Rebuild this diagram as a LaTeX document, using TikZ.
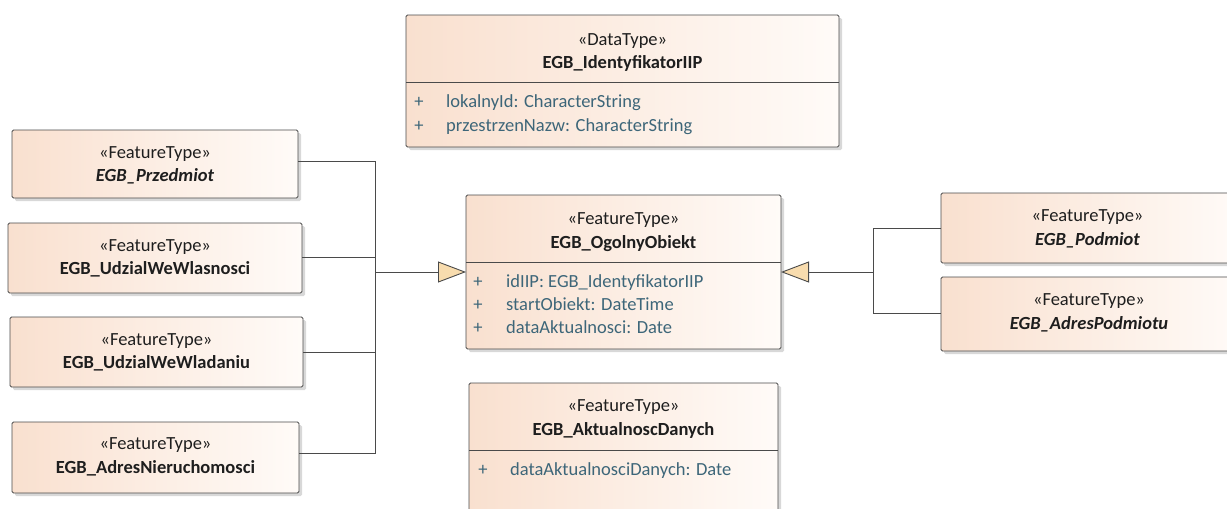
\documentclass[tikz,border=0pt]{standalone}
\usepackage{fontspec}
\setmainfont{Carlito}
\usetikzlibrary{arrows.meta,shadows,calc}
\definecolor{peachL}{HTML}{F9E0CF}
\definecolor{peachR}{HTML}{FFFBF8}
\definecolor{boxline}{HTML}{4A4A4A}
\definecolor{attrc}{HTML}{3D6679}
\definecolor{arrowfill}{HTML}{F8DCAE}
\definecolor{titlec}{HTML}{1E1E1E}
\begin{document}
\begin{tikzpicture}[x=1pt,y=-1pt,
  umlbox/.style={draw=boxline, line width=0.9pt, rounded corners=1.5pt,
    left color=peachL, right color=peachR, anchor=north west,
    inner sep=0pt, outer sep=0pt,
    drop shadow={shadow xshift=3pt, shadow yshift=-3pt, fill=black!30, opacity=0.5}},
  conn/.style={draw=boxline, line width=0.9pt},
  gen/.style={conn, -{Triangle[length=28pt,width=21pt,fill=arrowfill]}},
  stereo/.style={font=\fontsize{18.5}{22}\selectfont, text=titlec, anchor=base, inner sep=0pt},
  cname/.style={font=\fontsize{18.5}{22}\selectfont\bfseries, text=titlec, anchor=base, inner sep=0pt},
  aname/.style={font=\fontsize{18.5}{22}\selectfont\bfseries\itshape, text=titlec, anchor=base, inner sep=0pt},
  attr/.style={font=\fontsize{18.5}{22}\selectfont, text=attrc, anchor=base west, inner sep=0pt},
  plus/.style={font=\fontsize{18.5}{22}\selectfont, text=attrc, anchor=base, inner sep=0pt}
]
\useasboundingbox[fill=white] (0,0) rectangle (1227,509);

% ---- boxes
\node[umlbox, minimum width=433pt, minimum height=132pt] (dt) at (406,15) {};
\node[umlbox, minimum width=286pt, minimum height=68pt] (przed) at (12,130) {};
\node[umlbox, minimum width=294pt, minimum height=70pt] (wlas) at (8,223) {};
\node[umlbox, minimum width=293pt, minimum height=70pt] (wlad) at (10,317) {};
\node[umlbox, minimum width=287pt, minimum height=71pt] (adrn) at (12,422) {};
\node[umlbox, minimum width=315pt, minimum height=154pt] (ogol) at (466,195) {};
\node[umlbox, minimum width=300pt, minimum height=70pt] (podm) at (941,193) {};
\node[umlbox, minimum width=300pt, minimum height=74pt] (adrp) at (941,277) {};
\node[umlbox, minimum width=309pt, minimum height=140pt] (aktu) at (469,383) {};

% ---- compartment separators
\draw[conn] ($(dt.north west)+(0,67)$) -- ($(dt.north east)+(0,67)$);
\draw[conn] ($(ogol.north west)+(0,67)$) -- ($(ogol.north east)+(0,67)$);
\draw[conn] ($(aktu.north west)+(0,67)$) -- ($(aktu.north east)+(0,67)$);

% ---- texts
\node[stereo] (dt-s) at (622.5,45) {«DataType»};
\node[cname] (dt-n) at (622.5,68) {EGB\_IdentyfikatorIIP};
\node[plus] (dt-p1) at (419,107) {+};
\node[attr] (dt-a1) at (446,107) {lokalnyId: CharacterString};
\node[plus] (dt-p2) at (419,131) {+};
\node[attr] (dt-a2) at (446,131) {przestrzenNazw: CharacterString};

\node[stereo] (przed-s) at (155,158) {«FeatureType»};
\node[aname] (przed-n) at (155,181) {EGB\_Przedmiot};

\node[stereo] (wlas-s) at (155,251) {«FeatureType»};
\node[cname] (wlas-n) at (155,274) {EGB\_UdzialWeWlasnosci};

\node[stereo] (wlad-s) at (156.5,345) {«FeatureType»};
\node[cname] (wlad-n) at (156.5,368) {EGB\_UdzialWeWladaniu};

\node[stereo] (adrn-s) at (155.5,449) {«FeatureType»};
\node[cname] (adrn-n) at (155.5,473) {EGB\_AdresNieruchomosci};

\node[stereo] (ogol-s) at (623.5,224) {«FeatureType»};
\node[cname] (ogol-n) at (623.5,248) {EGB\_OgolnyObiekt};
\node[plus] (ogol-p1) at (478,287) {+};
\node[attr] (ogol-a1) at (506,287) {idIIP: EGB\_IdentyfikatorIIP};
\node[plus] (ogol-p2) at (478,310) {+};
\node[attr] (ogol-a2) at (506,310) {startObiekt: DateTime};
\node[plus] (ogol-p3) at (478,333) {+};
\node[attr] (ogol-a3) at (506,333) {dataAktualnosci: Date};

\node[stereo] (podm-s) at (1087.5,221) {«FeatureType»};
\node[aname] (podm-n) at (1087.5,245) {EGB\_Podmiot};

\node[stereo] (adrp-s) at (1089,305) {«FeatureType»};
\node[aname] (adrp-n) at (1089,329) {EGB\_AdresPodmiotu};

\node[stereo] (aktu-s) at (623.5,411) {«FeatureType»};
\node[cname] (aktu-n) at (623.5,435) {EGB\_AktualnoscDanych};
\node[plus] (aktu-p1) at (483,475) {+};
\node[attr] (aktu-a1) at (510,475) {dataAktualnosciDanych: Date};

% ---- generalisation connectors
\coordinate (jl) at (375,272);
\coordinate (jr) at (873,272);
\draw[conn] ([yshift=3pt]przed.east) -| (375,272);
\draw[conn] ([yshift=1pt]wlas.east) -| (375,272);
\draw[conn] (wlad.east) -| (375,272);
\draw[conn] ([yshift=4.5pt]adrn.east) -| (375,272);
\draw[gen] (jl) -- (ogol.west);
\draw[conn] (podm.west) -| (jr);
\draw[conn] ([yshift=1pt]adrp.west) -| (jr);
\draw[gen] (jr) -- (ogol.east);
\end{tikzpicture}
\end{document}
